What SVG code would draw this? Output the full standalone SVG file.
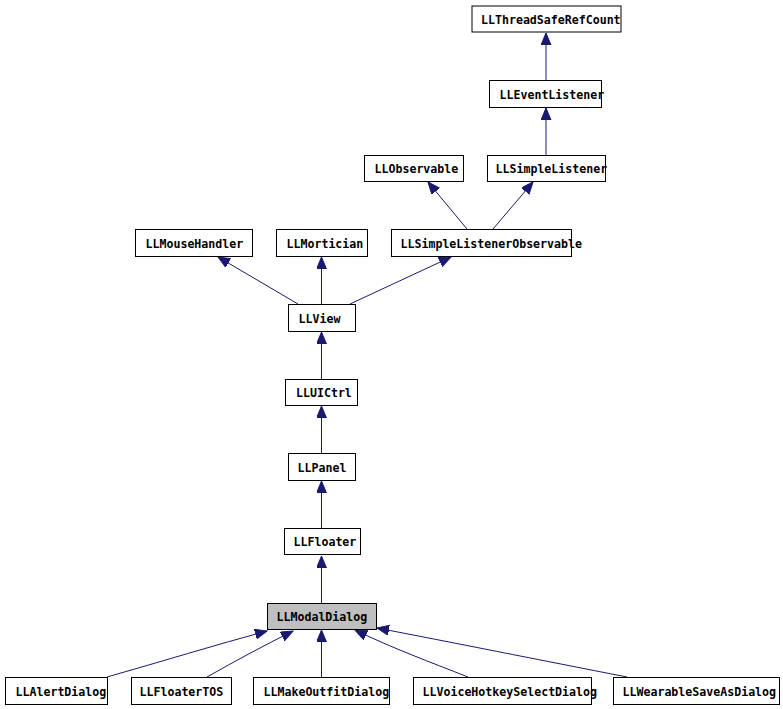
<svg xmlns="http://www.w3.org/2000/svg" width="783" height="709" viewBox="0 0 783 709">
<style>
.n rect{fill:#fff;stroke:#000;stroke-width:1}
.n.cur rect{fill:#bfbfbf}
.n text{font-family:"DejaVu Sans Mono","Liberation Mono",monospace;font-weight:bold;font-size:11.6px;fill:#000}
.e path{fill:none;stroke:#191970;stroke-width:1;marker-end:url(#arr)}
</style>
<defs>
<marker id="arr" markerUnits="userSpaceOnUse" markerWidth="13" markerHeight="11" refX="12" refY="5" orient="auto">
<path d="M0,0 L12,5 L0,10 z" fill="#191970" stroke="#191970"/>
</marker>
</defs>
<rect width="783" height="709" fill="#fff"/>
<g id="edges" class="e">
<path d="M546,80 L546,33"/>
<path d="M546,155 L546,108"/>
<path d="M467,229 L428,182"/>
<path d="M493,229 L533,182"/>
<path d="M298,304 L218,257"/>
<path d="M321.5,304 L321.5,257"/>
<path d="M350,304 L451,257"/>
<path d="M321.5,379 L321.5,332"/>
<path d="M321.5,453 L321.5,406"/>
<path d="M321.5,528 L321.5,481"/>
<path d="M321.5,603 L321.5,556"/>
<path d="M107,677 C160,662 215,645 267,631"/>
<path d="M207,677 C235,661 265,645 293,631"/>
<path d="M321.5,677 L321.5,630"/>
<path d="M468,677 C430,662 392,648 355,630"/>
<path d="M627,677 C540,660 450,642 377,628"/>
</g>
<g id="LLThreadSafeRefCount" class="n"><rect x="472" y="6" width="149" height="26"/><text x="481" y="24">LLThreadSafeRefCount</text></g>
<g id="LLEventListener" class="n"><rect x="489.5" y="80.5" width="112" height="27"/><text x="499.5" y="98.5">LLEventListener</text></g>
<g id="LLObservable" class="n"><rect x="364.5" y="155.5" width="99" height="26"/><text x="374.5" y="173">LLObservable</text></g>
<g id="LLSimpleListener" class="n"><rect x="487.5" y="155.5" width="118" height="26"/><text x="495.5" y="173">LLSimpleListener</text></g>
<g id="LLSimpleListenerObservable" class="n"><rect x="391.5" y="229.5" width="180" height="27"/><text x="400.5" y="247.5">LLSimpleListenerObservable</text></g>
<g id="LLMouseHandler" class="n"><rect x="135.5" y="229.5" width="117" height="27"/><text x="145.5" y="247.5">LLMouseHandler</text></g>
<g id="LLMortician" class="n"><rect x="276.5" y="229.5" width="91" height="27"/><text x="286.5" y="247.5">LLMortician</text></g>
<g id="LLView" class="n"><rect x="288.5" y="304.5" width="67" height="27"/><text x="298.5" y="322.5">LLView</text></g>
<g id="LLUICtrl" class="n"><rect x="285.5" y="379.5" width="72" height="26"/><text x="296" y="397">LLUICtrl</text></g>
<g id="LLPanel" class="n"><rect x="288.5" y="453.5" width="67" height="27"/><text x="297.5" y="471.5">LLPanel</text></g>
<g id="LLFloater" class="n"><rect x="284.5" y="528.5" width="76" height="26"/><text x="293.5" y="546">LLFloater</text></g>
<g id="LLModalDialog" class="n cur"><rect x="267.5" y="603.5" width="109" height="26"/><text x="276.5" y="621">LLModalDialog</text></g>
<g id="LLAlertDialog" class="n"><rect x="5.5" y="677.5" width="102" height="27"/><text x="15.5" y="695.5">LLAlertDialog</text></g>
<g id="LLFloaterTOS" class="n"><rect x="131.5" y="677.5" width="100" height="27"/><text x="139.5" y="695.5">LLFloaterTOS</text></g>
<g id="LLMakeOutfitDialog" class="n"><rect x="253.5" y="677.5" width="136" height="27"/><text x="263.5" y="695.5">LLMakeOutfitDialog</text></g>
<g id="LLVoiceHotkeySelectDialog" class="n"><rect x="413.5" y="677.5" width="178" height="27"/><text x="422.5" y="695.5">LLVoiceHotkeySelectDialog</text></g>
<g id="LLWearableSaveAsDialog" class="n"><rect x="613.5" y="677.5" width="166" height="27"/><text x="622.5" y="695.5">LLWearableSaveAsDialog</text></g>
</svg>
